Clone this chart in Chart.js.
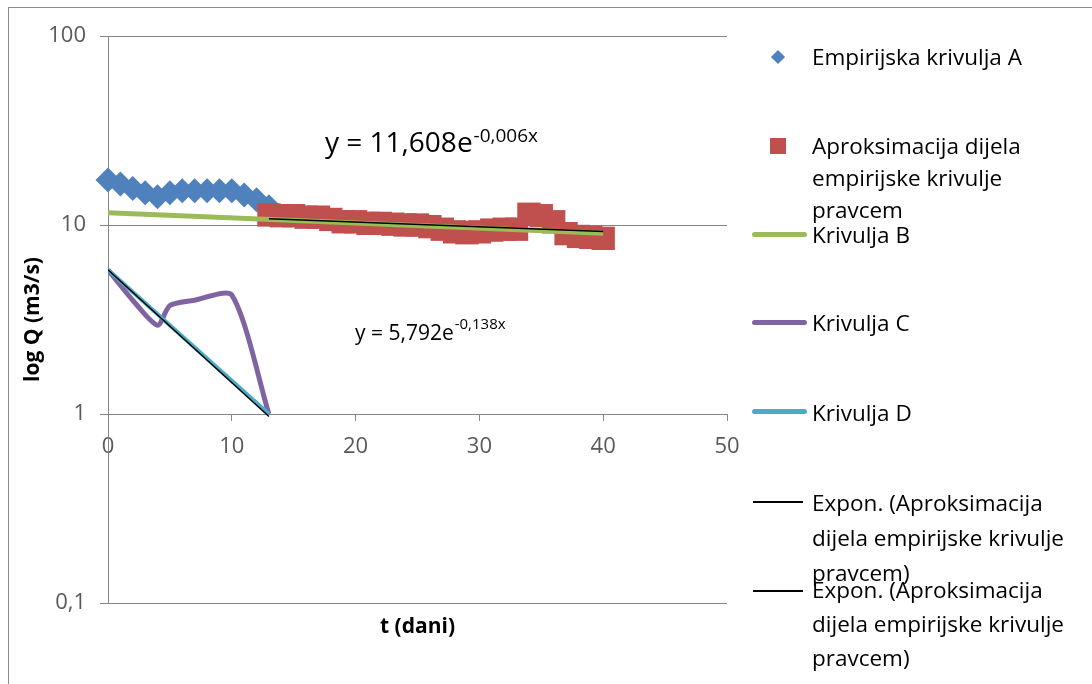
<!DOCTYPE html>
<html>
<head>
<meta charset="utf-8">
<script src="https://cdn.jsdelivr.net/npm/chart.js@4.4.1/dist/chart.umd.min.js"></script>
<style>
  body { margin: 0; background: #fff; overflow: hidden; }
  #wrap { position: relative; width: 1092px; height: 684px; overflow: hidden; }
  #frame { position: absolute; left: 8px; top: 7px; width: 1100px; height: 700px; border: 1px solid #8c8c8c; }
  #chart { position: absolute; left: 0; top: 0; }
  .txt { position: absolute; left: 812px; font-family: "Open Sans", sans-serif; font-size: 22.5px; color: #000; white-space: nowrap; }
  .mk { position: absolute; }
</style>
</head>
<body>
<div id="wrap">
  <div id="frame"></div>
  <canvas id="chart" width="1092" height="684"></canvas>

  <div class="mk" style="left:773px;top:52px;width:10px;height:10px;background:#4F81BD;transform:rotate(45deg);"></div>
  <div class="txt" style="top:40px;line-height:33px;">Empirijska krivulja A</div>

  <div class="mk" style="left:770px;top:138px;width:16px;height:16px;background:#C0504D;"></div>
  <div class="txt" style="top:130px;line-height:32px;">Aproksimacija dijela<br>empirijske krivulje<br>pravcem</div>

  <div class="mk" style="left:752px;top:232px;width:55px;height:5px;border-radius:3px;background:#9BBB59;"></div>
  <div class="txt" style="top:218px;line-height:33px;">Krivulja B</div>

  <div class="mk" style="left:752px;top:320px;width:55px;height:5px;border-radius:3px;background:#8064A2;"></div>
  <div class="txt" style="top:306px;line-height:33px;">Krivulja C</div>

  <div class="mk" style="left:752px;top:409px;width:55px;height:5px;border-radius:3px;background:#4BACC6;"></div>
  <div class="txt" style="top:396px;line-height:33px;">Krivulja D</div>

  <div class="mk" style="left:753px;top:501px;width:50px;height:1.5px;background:#000;"></div>
  <div class="txt" style="top:485px;line-height:35px;">Expon. (Aproksimacija<br>dijela empirijske krivulje<br>pravcem)</div>

  <div class="mk" style="left:753px;top:590px;width:50px;height:1.5px;background:#000;"></div>
  <div class="txt" style="top:573px;line-height:34px;">Expon. (Aproksimacija<br>dijela empirijske krivulje<br>pravcem)</div>
</div>
<script>
// Empirijska krivulja A
const tA = [0, 1, 2, 3, 4, 5, 6, 7, 8, 9, 10, 11, 12, 13];
const qA = [17.3, 16.5, 15.6, 14.8, 14.1, 14.8, 15.2, 15.2, 15.2, 15.2, 15.2, 14.4, 13.6, 12.5];

// Aproksimacija dijela empirijske krivulje pravcem
const tAprox = [13, 14, 15, 16, 17, 18, 19, 20, 21, 22, 23, 24, 25, 26,
  27, 28, 29, 30, 31, 32, 33, 34, 35, 36, 37, 38, 39, 40];
const qAprox = [11.3, 11.2, 11.2, 11.0, 11.0, 10.7, 10.4, 10.4, 10.2, 10.2, 10.1, 10.0, 10.0, 9.8,
  9.5, 9.2, 9.1, 9.2, 9.4, 9.5, 9.5, 11.4, 11.2, 10.4, 9.0, 8.7, 8.6, 8.5];

// Krivulja B, C, D
const tB = [0, 40];
const qB = [11.6, 9.05];
const tC = [0, 2, 4, 5, 7, 10, 13];
const qC = [5.79, 4.0, 2.95, 3.75, 4.0, 4.25, 1.0];
const tD = [0, 13];
const qD = [5.79, 1.0];

// Expon. trend lines
const tExp1 = [13, 40];
const qExp1 = [10.8, 9.25];
const tExp2 = [0, 13];
const qExp2 = [5.79, 0.97];

const xTicks = [0, 10, 20, 30, 40, 50];
const yTicks = [0.1, 1, 10, 100];

const FONT = 'Open Sans';
const GRID = '#868686';

function pts(xs, ys) {
  return xs.map((x, i) => ({ x: x, y: ys[i] }));
}

function lineSet(label, xs, ys, color, width, order, tension) {
  return {
    label: label,
    data: pts(xs, ys),
    showLine: true,
    borderColor: color,
    borderWidth: width,
    pointRadius: 0,
    tension: tension || 0,
    order: order
  };
}

// equation labels for the two trend lines
const eqPlugin = {
  id: 'equations',
  afterDatasetsDraw(chart) {
    const ctx = chart.ctx;
    drawEq(ctx, 'y = 11,608e', '-0,006x', 325, 152, 28, 19, 10);
    drawEq(ctx, 'y = 5,792e', '-0,138x', 355, 340, 21, 15, 11);
  }
};

function drawEq(ctx, main, sup, x, y, size, supSize, rise) {
  ctx.save();
  ctx.fillStyle = '#000';
  ctx.textBaseline = 'alphabetic';
  ctx.font = size + 'px "' + FONT + '"';
  ctx.fillText(main, x, y);
  const w = ctx.measureText(main).width;
  ctx.font = supSize + 'px "' + FONT + '"';
  ctx.fillText(sup, x + w + 1, y - rise);
  ctx.restore();
}

new Chart(document.getElementById('chart'), {
  type: 'scatter',
  data: {
    datasets: [
      {
        label: 'Empirijska krivulja A',
        data: pts(tA, qA),
        pointStyle: 'rectRot',
        pointRadius: 12.5,
        backgroundColor: '#4F81BD',
        borderWidth: 0,
        clip: false,
        order: 10
      },
      {
        label: 'Aproksimacija dijela empirijske krivulje pravcem',
        data: pts(tAprox, qAprox),
        pointStyle: 'rect',
        pointRadius: 16.5,
        backgroundColor: '#C0504D',
        borderWidth: 0,
        clip: false,
        order: 9
      },
      lineSet('Krivulja B', tB, qB, '#9BBB59', 5, 5),
      lineSet('Krivulja C', tC, qC, '#8064A2', 5, 4, 0.25),
      lineSet('Krivulja D', tD, qD, '#4BACC6', 4, 3),
      lineSet('Expon. (Aproksimacija dijela empirijske krivulje pravcem)', tExp1, qExp1, '#000', 1.5, 1),
      lineSet('Expon. (Aproksimacija dijela empirijske krivulje pravcem)', tExp2, qExp2, '#000', 1.5, 2)
    ]
  },
  options: {
    responsive: false,
    animation: false,
    events: [],
    layout: { padding: { left: 0, top: 36, right: 365, bottom: 0 } },
    plugins: {
      legend: { display: false },
      tooltip: { enabled: false }
    },
    scales: {
      x: {
        type: 'linear',
        min: 0,
        max: 50,
        position: { y: 1 },
        afterBuildTicks: s => { s.ticks = xTicks.map(v => ({ value: v })); },
        ticks: { color: '#595959', font: { family: FONT, size: 22 }, padding: 14 },
        grid: { drawOnChartArea: false, drawTicks: true, tickLength: 6, color: GRID },
        border: { color: GRID }
      },
      x2: {
        type: 'linear',
        position: 'bottom',
        min: 0,
        max: 50,
        ticks: { display: false },
        grid: { display: false },
        border: { display: false },
        title: {
          display: true,
          text: 't (dani)',
          color: '#000',
          font: { family: FONT, size: 21, weight: 'bold' },
          padding: { top: 0, bottom: 44 }
        },
        afterFit: s => { s.height = 81; }
      },
      y: {
        type: 'logarithmic',
        min: 0.1,
        max: 100,
        afterBuildTicks: s => { s.ticks = yTicks.map(v => ({ value: v })); },
        afterFit: s => { s.width = 108; },
        ticks: {
          color: '#595959',
          font: { family: FONT, size: 22 },
          padding: 14,
          callback: v => String(v).replace('.', ',')
        },
        grid: { color: GRID, tickLength: 8 },
        border: { color: GRID },
        title: {
          display: true,
          text: 'log Q (m3/s)',
          color: '#000',
          font: { family: FONT, size: 21, weight: 'bold' },
          padding: { top: 20, bottom: 0 }
        }
      }
    }
  },
  plugins: [eqPlugin]
});
</script>
</body>
</html>
